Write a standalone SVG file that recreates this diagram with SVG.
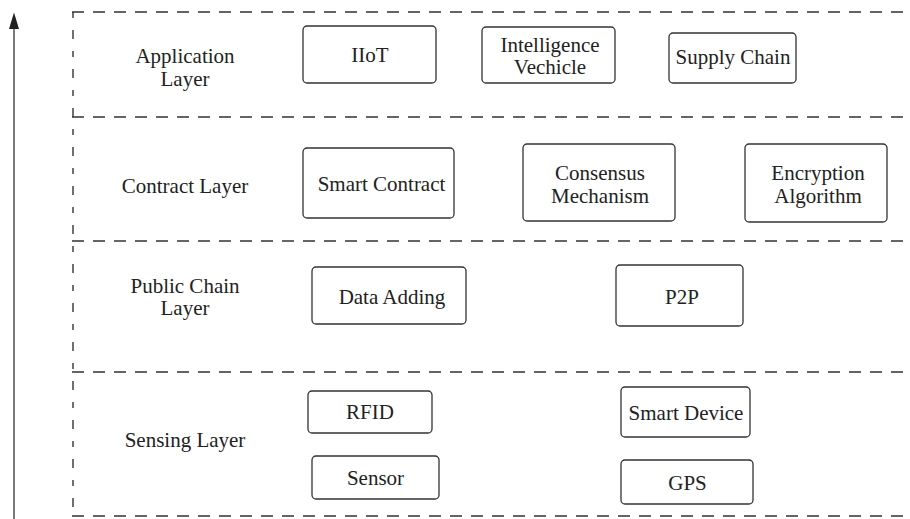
<svg xmlns="http://www.w3.org/2000/svg" width="910" height="519" viewBox="0 0 910 519">
<style>
.n rect{fill:#fff;stroke:#333;stroke-width:1.3;}
text{font-size:21px;fill:#222;text-anchor:middle;}
.d{stroke:#333;stroke-width:1.4;stroke-dasharray:12 9;fill:none;}
</style>
<g id="frame">
<line class="d" x1="72" y1="12" x2="910" y2="12"/>
<line class="d" x1="72" y1="117" x2="910" y2="117"/>
<line class="d" x1="72" y1="241" x2="910" y2="241"/>
<line class="d" x1="72" y1="372" x2="910" y2="372"/>
<line class="d" x1="72" y1="516" x2="910" y2="516"/>
<line class="d" x1="73" y1="12" x2="73" y2="516" style="stroke-dasharray:6 12 9 12"/>
</g>
<g id="connectors">
<line x1="14" y1="519" x2="14" y2="22" stroke="#333" stroke-width="1.3"/>
<path d="M14 12.5 L19 29 L9 29 Z" fill="#222"/>
</g>
<g id="layer-labels">
<text x="185" y="63" font-family="'Liberation Serif', serif">Application</text>
<text x="185" y="85.5" font-family="'Liberation Serif', serif">Layer</text>
<text x="185" y="193" font-family="'Liberation Serif', serif">Contract Layer</text>
<text x="185" y="293" font-family="'Liberation Serif', serif">Public Chain</text>
<text x="185" y="315" font-family="'Liberation Serif', serif">Layer</text>
<text x="185" y="447" font-family="'Liberation Serif', serif">Sensing Layer</text>
</g>
<g id="iiot" class="n"><rect x="303" y="26" width="133" height="57" rx="4"/><text x="370" y="62" font-family="'Liberation Serif', serif">IIoT</text></g>
<g id="intelligence-vehicle" class="n"><rect x="482" y="27" width="133" height="56" rx="4"/><text x="550" y="51.5" font-family="'Liberation Serif', serif">Intelligence</text><text x="550" y="73.5" font-family="'Liberation Serif', serif">Vechicle</text></g>
<g id="supply-chain" class="n"><rect x="669" y="33" width="127" height="50" rx="4"/><text x="733" y="63.5" font-family="'Liberation Serif', serif">Supply Chain</text></g>
<g id="smart-contract" class="n"><rect x="303" y="148" width="151" height="70" rx="4"/><text x="381.5" y="191" font-family="'Liberation Serif', serif">Smart Contract</text></g>
<g id="consensus" class="n"><rect x="523" y="144" width="152" height="77" rx="4"/><text x="600" y="180" font-family="'Liberation Serif', serif">Consensus</text><text x="600" y="202.5" font-family="'Liberation Serif', serif">Mechanism</text></g>
<g id="encryption" class="n"><rect x="745" y="144" width="142" height="78" rx="4"/><text x="818" y="180" font-family="'Liberation Serif', serif">Encryption</text><text x="818" y="202.5" font-family="'Liberation Serif', serif">Algorithm</text></g>
<g id="data-adding" class="n"><rect x="312" y="267" width="154" height="57" rx="4"/><text x="392" y="303.5" font-family="'Liberation Serif', serif">Data Adding</text></g>
<g id="p2p" class="n"><rect x="616" y="265" width="127" height="61" rx="4"/><text x="682" y="303.5" font-family="'Liberation Serif', serif">P2P</text></g>
<g id="rfid" class="n"><rect x="308" y="391" width="124" height="42" rx="4"/><text x="370" y="419" font-family="'Liberation Serif', serif">RFID</text></g>
<g id="sensor" class="n"><rect x="312" y="456" width="127" height="43" rx="4"/><text x="375.5" y="484.5" font-family="'Liberation Serif', serif">Sensor</text></g>
<g id="smart-device" class="n"><rect x="621" y="387" width="129" height="50" rx="4"/><text x="686" y="420" font-family="'Liberation Serif', serif">Smart Device</text></g>
<g id="gps" class="n"><rect x="621" y="460" width="132" height="44" rx="4"/><text x="687.5" y="490" font-family="'Liberation Serif', serif">GPS</text></g>
</svg>
